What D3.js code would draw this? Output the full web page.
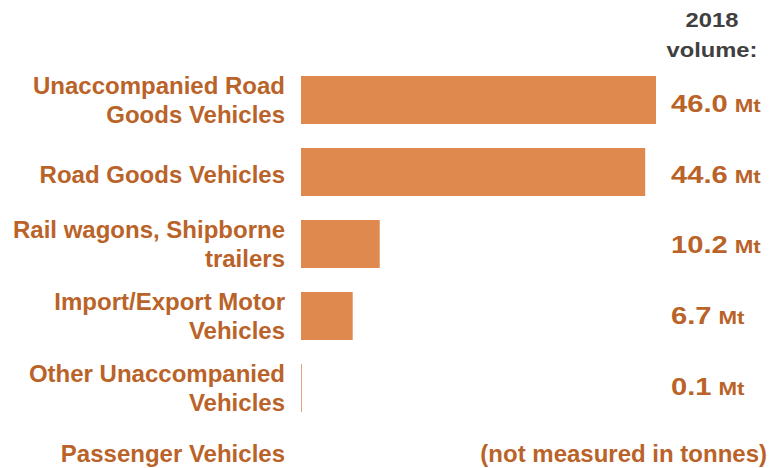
<!DOCTYPE html>
<html>
<head>
<meta charset="utf-8">
<script src="https://cdn.jsdelivr.net/npm/d3@7"></script>
<style>
  body { margin: 0; background: #fff; }
  text { font-family: "Liberation Sans", Arial, sans-serif; font-weight: bold; }
</style>
</head>
<body>
<script>
// datos del grafico
var categorias = [
    ["Unaccompanied Road", "Goods Vehicles"],
    ["Road Goods Vehicles"],
    ["Rail wagons, Shipborne", "trailers"],
    ["Import/Export Motor", "Vehicles"],
    ["Other Unaccompanied", "Vehicles"]
]
var volumen = [46.0, 44.6, 10.2, 6.7, 0.1]
var unidad = "Mt"
var titulo = ["2018", "volume:"]
var filaExtra = "Passenger Vehicles"
var notaExtra = "(not measured in tonnes)"

var width = 782
var height = 468
var naranja = "#E0894F"
var colorTexto = "#BA6329"

var svg = d3.select("body")
    .append("svg")
    .attr("width", width)
    .attr("height", height)

// escalas
var escalaX = d3.scaleLinear()
    .domain([0, 46])
    .range([301, 656])

var escalaY = d3.scaleBand()
    .domain(d3.range(categorias.length))
    .range([64, 64 + 72 * categorias.length])
    .paddingInner(1 / 3)
    .paddingOuter(1 / 6)

// columna de valores (cajas de texto, un poco mas juntas que las barras)
var escalaValor = d3.scalePoint()
    .domain(d3.range(volumen.length))
    .range([112, 394.5])

var centro = i => escalaY(i) + escalaY.bandwidth() / 2

// barras
svg.selectAll("rect.barra")
    .data(volumen)
    .enter()
    .append("rect")
    .attr("class", "barra")
    .attr("x", escalaX(0))
    .attr("y", (d, i) => escalaY(i))
    .attr("width", d => escalaX(d) - escalaX(0))
    .attr("height", escalaY.bandwidth())
    .attr("fill", naranja)

// etiquetas de categoria
var etiquetas = svg.selectAll("text.cat")
    .data(categorias)
    .enter()
    .append("text")
    .attr("class", "cat")
    .attr("text-anchor", "end")
    .attr("fill", colorTexto)
    .style("font-size", "24px")

etiquetas.selectAll("tspan")
    .data((d, i) => d.map(l => ({ linea: l, n: d.length, i: i })))
    .enter()
    .append("tspan")
    .attr("x", 285)
    .attr("y", (d, j) => centro(d.i) + (d.n == 1 ? 10.5 : 8.5 + (j - 0.5) * 28.6))
    .text(d => d.linea)

// valores (texto algo ensanchado como en el original)
var valores = svg.selectAll("text.valor")
    .data(volumen)
    .enter()
    .append("text")
    .attr("class", "valor")
    .attr("fill", colorTexto)
    .attr("transform", (d, i) => "translate(671," + escalaValor(i) + ") scale(1.2,1)")

valores.append("tspan")
    .style("font-size", "24.3px")
    .text(d => d.toFixed(1))
valores.append("tspan")
    .attr("dx", 5.8)
    .style("font-size", "18.6px")
    .text(unidad)

// titulo
svg.append("text")
    .attr("fill", "#404040")
    .attr("text-anchor", "middle")
    .attr("transform", "translate(712,0) scale(1.13,1)")
    .style("font-size", "21px")
    .selectAll("tspan")
    .data(titulo)
    .enter()
    .append("tspan")
    .attr("x", 0)
    .attr("y", (d, i) => 27 + i * 30)
    .text(d => d)

// fila de pasajeros
var yExtra = centro(categorias.length - 1) + 65 + 8.5
svg.append("text")
    .attr("x", 285)
    .attr("y", yExtra)
    .attr("text-anchor", "end")
    .attr("fill", colorTexto)
    .style("font-size", "24px")
    .text(filaExtra)

svg.append("text")
    .attr("x", 767)
    .attr("y", yExtra)
    .attr("text-anchor", "end")
    .attr("fill", colorTexto)
    .style("font-size", "24px")
    .text(notaExtra)
</script>
</body>
</html>
